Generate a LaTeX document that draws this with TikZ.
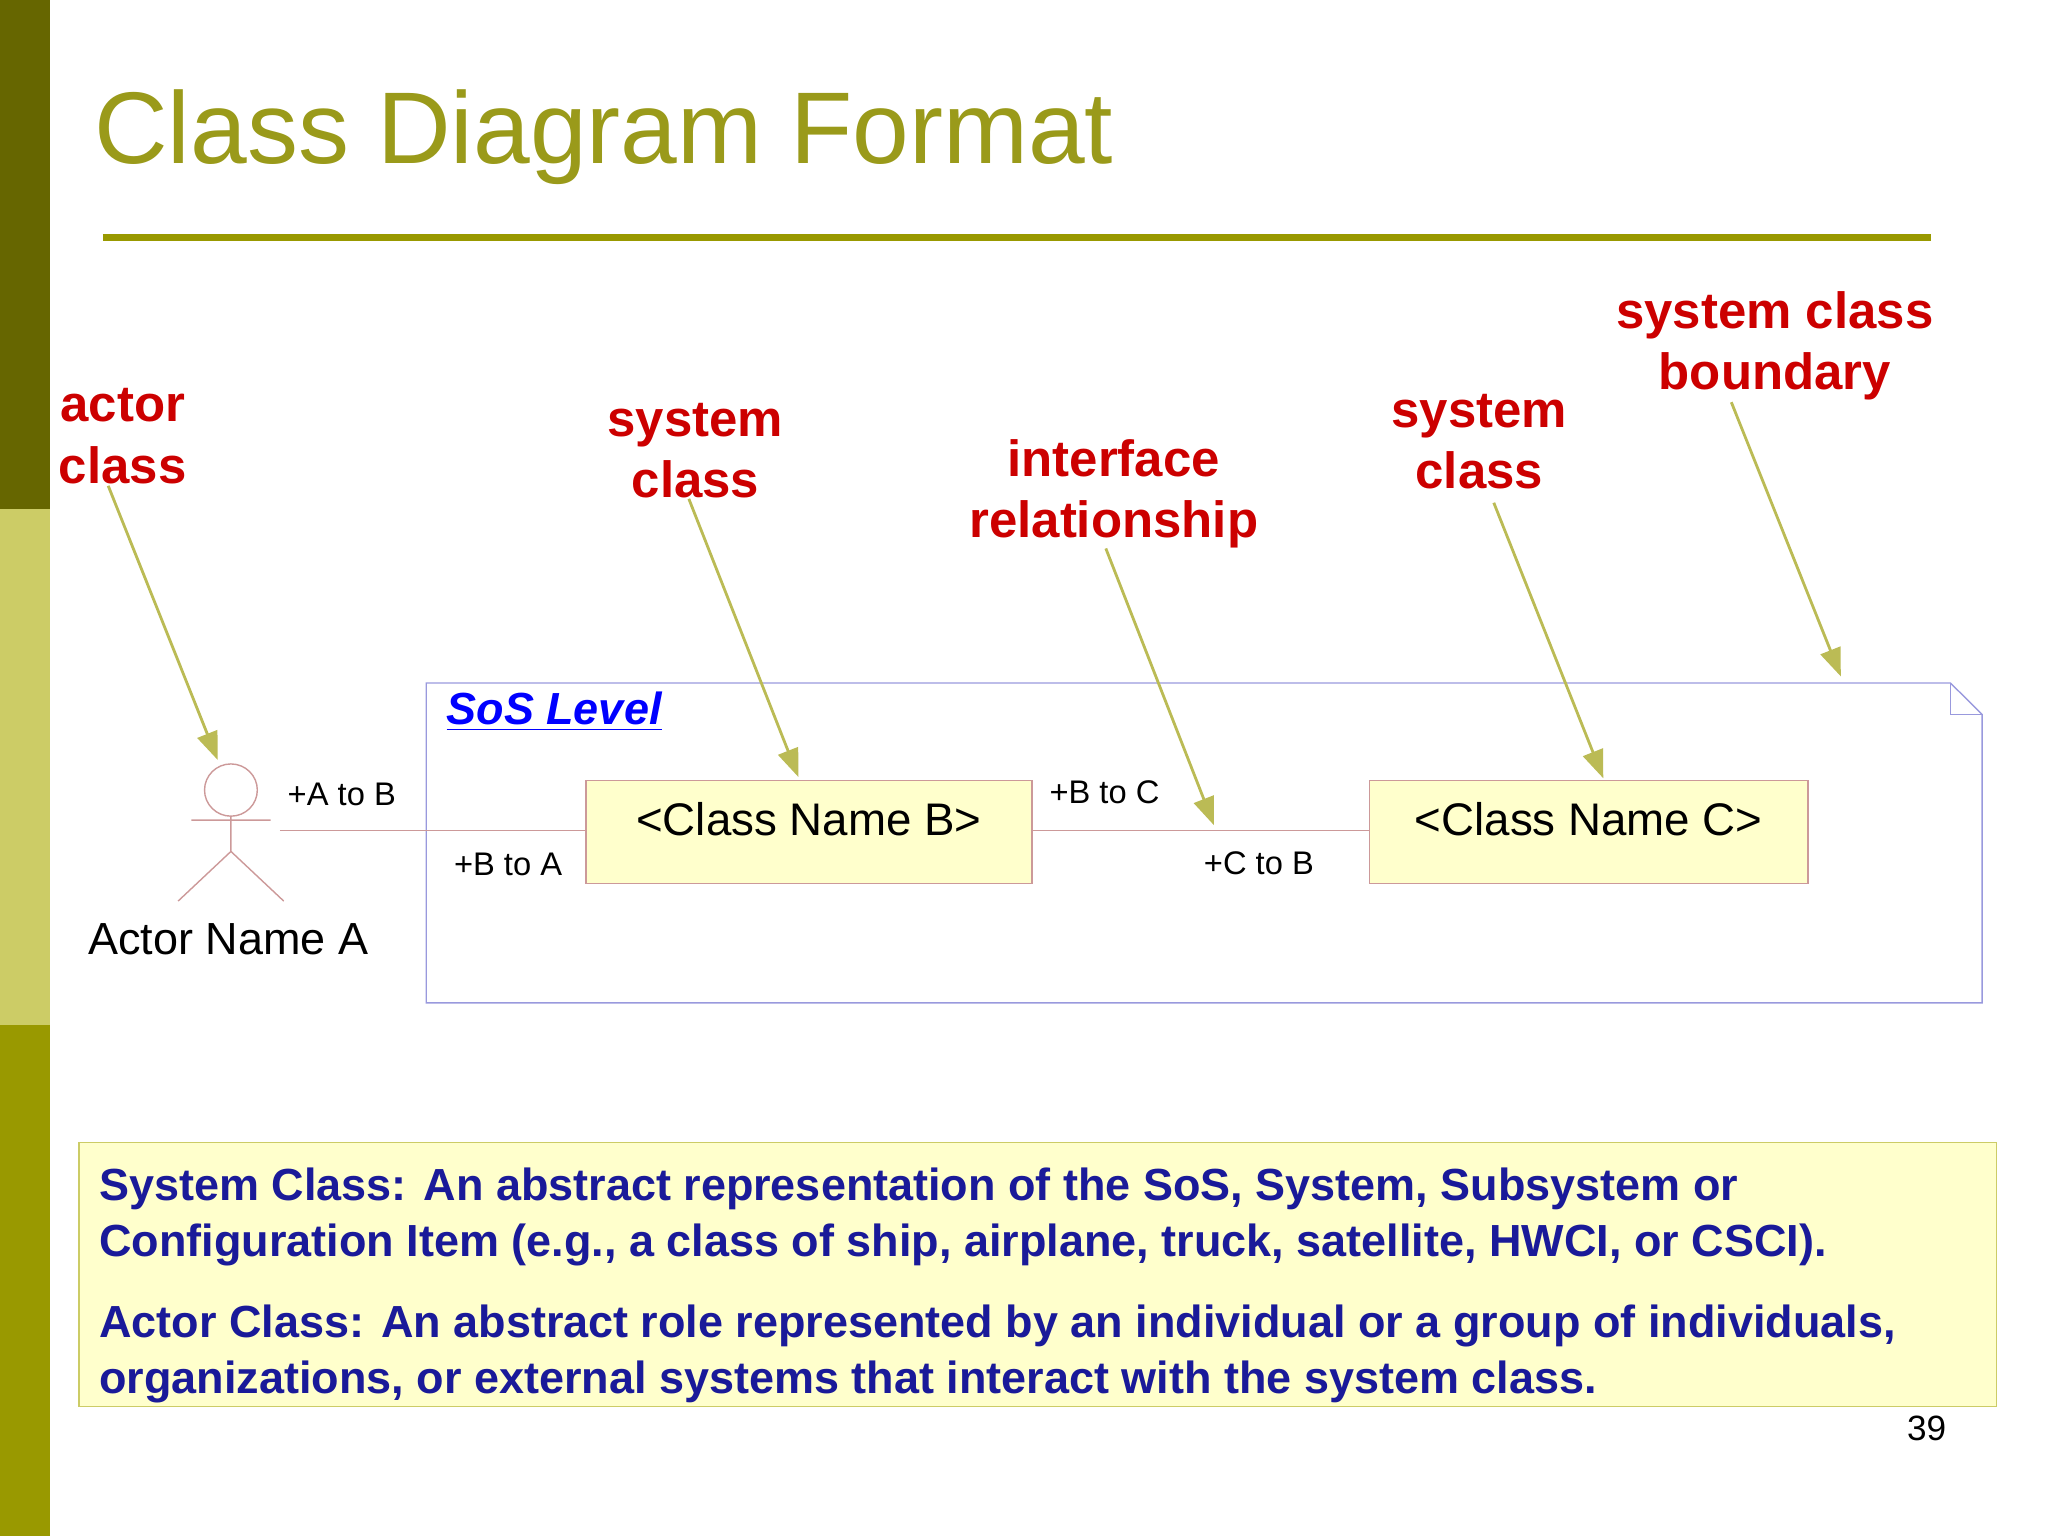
\documentclass[tikz,border=0pt]{standalone}
\usepackage{fontspec}
\setmainfont{Liberation Sans}
\usetikzlibrary{arrows.meta, positioning}
\definecolor{olivedark}{HTML}{666600}
\definecolor{olivelight}{HTML}{CCCC66}
\definecolor{olivemid}{HTML}{999900}
\definecolor{titleol}{HTML}{9A9A1A}
\definecolor{callred}{HTML}{CC0000}
\definecolor{noteblue}{HTML}{1A1A99}
\definecolor{classfill}{HTML}{FFFFCC}
\definecolor{classline}{HTML}{CC9999}
\definecolor{frameline}{HTML}{9999DD}
\definecolor{arrowol}{HTML}{BBBB55}
\tikzset{
  callout/.style={text=callred, font=\fontsize{14.5}{17.4}\selectfont\bfseries, align=center},
  pointer/.style={draw=arrowol, thick, -{Triangle[length=8pt,width=6pt]}},
  classbox/.style={draw=classline, fill=classfill, minimum width=338*0.0132cm, minimum height=79*0.01306cm, inner sep=0pt},
  rolelabel/.style={font=\fontsize{9.3}{11}\selectfont},
  assoc/.style={draw=classline}
}
\begin{document}
\begin{tikzpicture}[x=0.0132cm, y=-0.01306cm]
\useasboundingbox (0,0) rectangle (1552,1176);
%side bar
\fill[olivedark] (0,0) rectangle (38,390);
\fill[olivelight] (0,390) rectangle (38,785);
\fill[olivemid] (0,785) rectangle (38,1176);
%title
\node[anchor=west, text=titleol, font=\fontsize{29}{33}\selectfont] (title) at (62,105) {Class Diagram Format};
\draw[olivemid, line width=2pt] (78,182) -- (1463,182);
%frame
\draw[frameline] (323,523) -- (1478,523) -- (1502,547) -- (1502,768) -- (323,768) -- cycle;
\draw[frameline] (1478,523) -- (1478,547) -- (1502,547);
\node[anchor=west, text=blue, font=\fontsize{12.8}{15}\selectfont\bfseries\itshape] (sos) at (329,545) {\underline{SoS Level}};
%classes
\node[classbox, minimum width=338*0.0132cm] (clsB) at (613,637) {};
\node[anchor=north, font=\fontsize{13}{15}\selectfont] at (clsB.north) [yshift=-3pt] {<Class Name B>};
\node[classbox, minimum width=332*0.0132cm] (clsC) at (1204,637) {};
\node[anchor=north, font=\fontsize{13}{15}\selectfont] at (clsC.north) [yshift=-3pt] {<Class Name C>};
%actor
\draw[classline] (175,605) circle[radius=20];
\draw[classline] (175,625) -- (175,652) (145,628) -- (205,628) (135,690) -- (175,652) -- (215,690);
\coordinate (actor) at (212,636);
\node[font=\fontsize{12.8}{15}\selectfont] (actname) at (173,719) {Actor Name A};
%associations
\draw[assoc] (actor) -- (clsB.west |- actor);
\draw[assoc] (clsB.east |- actor) -- (clsC.west |- actor);
\node[rolelabel] (ab) at (259,608) {+A to B};
\node[rolelabel] (ba) at (385,662) {+B to A};
\node[rolelabel] (bc) at (837,607) {+B to C};
\node[rolelabel] (cb) at (954,661) {+C to B};
%callouts
\node[callout] (lblactor) at (93,334) {actor\\class};
\node[callout] (lblsysB) at (527,345) {system\\class};
\node[callout] (lblif) at (844,378) {interface\\relationship};
\node[callout] (lblsysC) at (1121,338) {system\\class};
\node[callout] (lblbound) at (1345,265) {system class\\boundary};
\coordinate (tipactor) at (165,582);
\coordinate (tipB) at (605,595);
\coordinate (tipif) at (920,632);
\coordinate (tipC) at (1215,596);
\coordinate (tipbound) at (1395,518);
\draw[pointer] (82,372) -- (tipactor);
\draw[pointer] (522,382) -- (tipB);
\draw[pointer] (838,420) -- (tipif);
\draw[pointer] (1132,385) -- (tipC);
\draw[pointer] (1312,308) -- (tipbound);
%notes
\draw[olivelight, fill=classfill] (60,875) rectangle (1513,1077);
\node[anchor=north west, text=noteblue, font=\fontsize{12.8}{15.8}\selectfont\bfseries, align=left] (note1) at (66,885) {System Class: An abstract representation of the SoS, System, Subsystem or\\Configuration Item (e.g., a class of ship, airplane, truck, satellite, HWCI, or CSCI).};
\node[anchor=north west, text=noteblue, font=\fontsize{12.8}{15.8}\selectfont\bfseries, align=left] (note2) at (66,990) {Actor Class: An abstract role represented by an individual or a group of individuals,\\organizations, or external systems that interact with the system class.};
\node[font=\fontsize{10}{12}\selectfont] (pagenum) at (1460,1094) {39};
\end{tikzpicture}
\end{document}
